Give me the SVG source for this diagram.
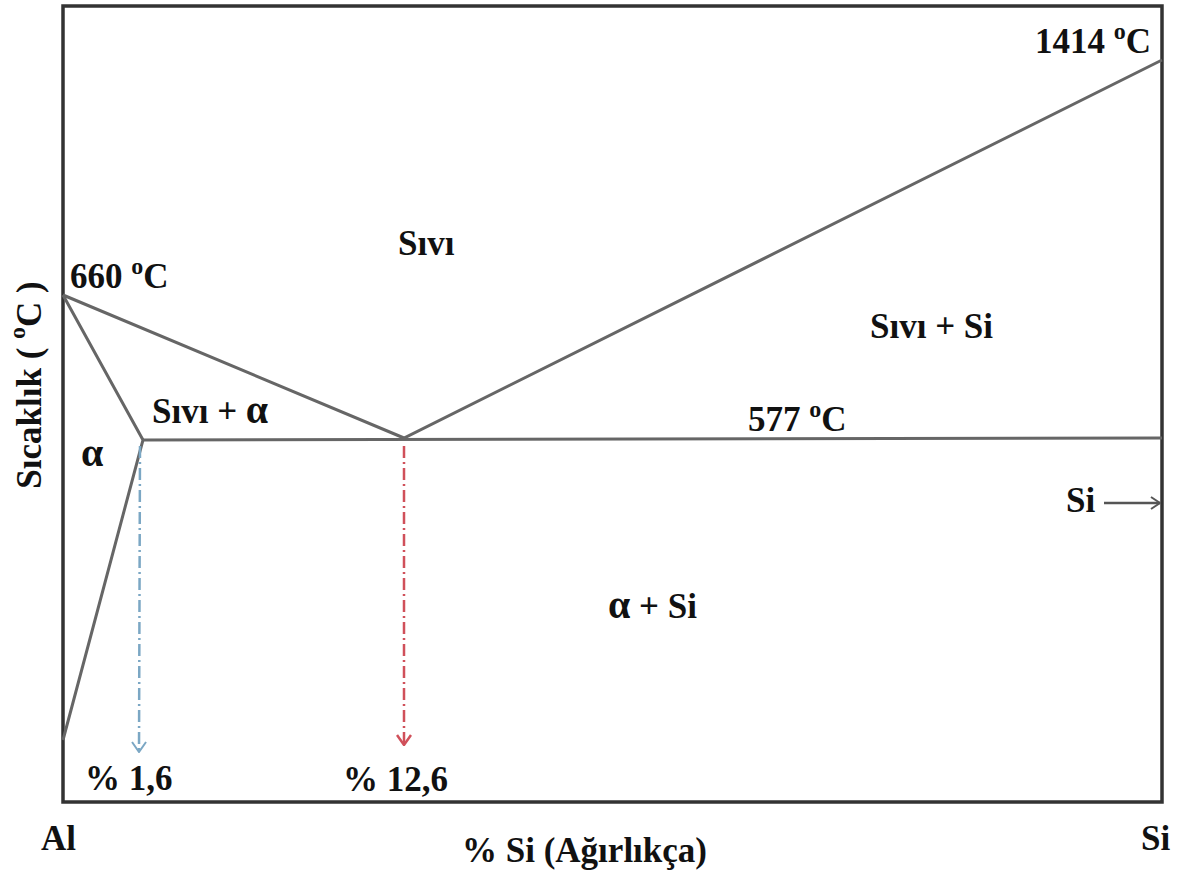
<svg xmlns="http://www.w3.org/2000/svg" width="1184" height="873" viewBox="0 0 1184 873">
<defs>
<style>
.t{font-family:"Liberation Serif","Times New Roman",serif;font-weight:bold;fill:#111;font-size:35px}
.ln{stroke:#666;stroke-width:3;fill:none}
.sup{font-size:24px}
.a{font-size:40px}
</style>
<marker id="ab" markerWidth="14" markerHeight="16" refX="13" refY="8" orient="auto" markerUnits="userSpaceOnUse" viewBox="0 0 14 16"><path d="M3,1 L13,8 L3,15" fill="none" stroke="#7ba7c4" stroke-width="2"/></marker>
<marker id="ar" markerWidth="14" markerHeight="16" refX="13" refY="8" orient="auto" markerUnits="userSpaceOnUse" viewBox="0 0 14 16"><path d="M3,1 L13,8 L3,15" fill="none" stroke="#d0505a" stroke-width="2.5"/></marker>
<marker id="ak" markerWidth="14" markerHeight="14" refX="13" refY="7" orient="auto" markerUnits="userSpaceOnUse" viewBox="0 0 14 14"><path d="M4,1 L13,7 L4,13" fill="none" stroke="#555" stroke-width="2"/></marker>
</defs>
<rect width="1184" height="873" fill="#fff"/>
<g id="frame"><rect x="63" y="6" width="1099" height="796" fill="none" stroke="#333" stroke-width="3.5"/></g>
<g id="connectors">
<path class="ln" d="M63,295 L404,438 L1162,60"/>
<path class="ln" d="M63,295 L143,440 L63,740"/>
<path class="ln" d="M143,440 L1162,438"/>
<line x1="140" y1="446" x2="139" y2="752" stroke="#7ba7c4" stroke-width="2.5" stroke-dasharray="12,4,2,4" marker-end="url(#ab)"/>
<line x1="404" y1="446" x2="404" y2="745" stroke="#d0505a" stroke-width="2.5" stroke-dasharray="12,4,2,4" marker-end="url(#ar)"/>
<line x1="1104" y1="503" x2="1160" y2="503" stroke="#555" stroke-width="2.5" marker-end="url(#ak)"/>
</g>
<g id="labels">
<text class="t" x="70" y="288">660 <tspan class="sup" dy="-14">o</tspan><tspan dy="14">C</tspan></text>
<text class="t" x="1035" y="53">1414 <tspan class="sup" dy="-14">o</tspan><tspan dy="14">C</tspan></text>
<text class="t" x="748" y="431">577 <tspan class="sup" dy="-14">o</tspan><tspan dy="14">C</tspan></text>
<text class="t" x="398" y="255">Sıvı</text>
<text class="t" x="870" y="338">Sıvı + Si</text>
<text class="t" x="152" y="423">Sıvı + <tspan class="a">α</tspan></text>
<text class="t a" x="81" y="466">α</text>
<text class="t" x="608" y="618"><tspan class="a">α</tspan> + Si</text>
<text class="t" x="1066" y="512">Si</text>
<text class="t" x="85" y="790">% 1,6</text>
<text class="t" x="343" y="791">% 12,6</text>
<text class="t" x="41" y="850">Al</text>
<text class="t" x="1141" y="850">Si</text>
<text class="t" x="462" y="862">% Si (Ağırlıkça)</text>
<text class="t" x="33" y="385" text-anchor="middle" transform="rotate(-90 33 385)" dominant-baseline="middle">Sıcaklık ( <tspan class="sup" dy="-14">o</tspan><tspan dy="14">C )</tspan></text>
</g>
</svg>
